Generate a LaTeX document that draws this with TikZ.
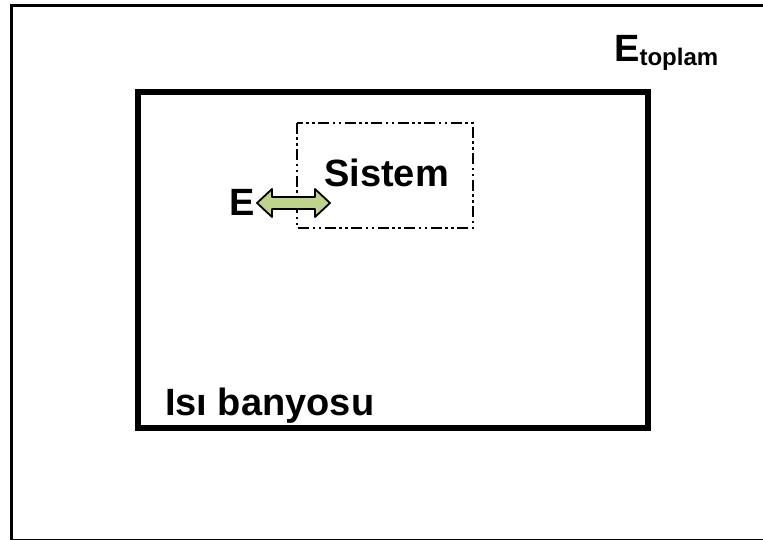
\documentclass[tikz,border=0pt]{standalone}
\usepackage{fontspec}
\setmainfont{Liberation Sans}
\usepackage{tikz}
\usetikzlibrary{calc}
\definecolor{arrowgreen}{RGB}{190,212,140}
\tikzset{
  bigtext/.style={font=\bfseries\fontsize{38}{42}\selectfont, inner sep=0pt},
  sysline/.style={line width=2.4pt, dash pattern=on 11pt off 3.5pt on 2.5pt off 3.5pt on 2.5pt off 3.5pt}
}

\begin{document}
\begin{tikzpicture}[x=1pt,y=-1pt]
\useasboundingbox (0,0) rectangle (763,540);
% frames
\draw[line width=3pt] (11,6) rectangle (780,540.5);
\draw[line width=6pt] (138,92) rectangle (648,428);
\draw[sysline] (297,123) rectangle (473,228);
% labels
\node[bigtext, anchor=base west] (etoplam) at (614,62) {E\raisebox{-4pt}{\fontsize{24}{27}\selectfont toplam}};
\node[bigtext, anchor=base west] (sistem) at (324,187) {Sistem};
\node[bigtext, anchor=base west] (enerji) at (229,215) {E};
\node[bigtext, anchor=base west] (banyo) at (165,415) {Isı banyosu};
% energy exchange
\coordinate (a) at (257,203);
\coordinate (b) at (330,203);
\filldraw[fill=arrowgreen, line width=1.8pt, line join=round]
  (a) -- ($(a)+(15,-14)$) -- ($(a)+(15,-6)$) -- ($(b)+(-15,-6)$) -- ($(b)+(-15,-14)$)
  -- (b) -- ($(b)+(-15,14)$) -- ($(b)+(-15,6)$) -- ($(a)+(15,6)$) -- ($(a)+(15,14)$) -- cycle;
\end{tikzpicture}
\end{document}
